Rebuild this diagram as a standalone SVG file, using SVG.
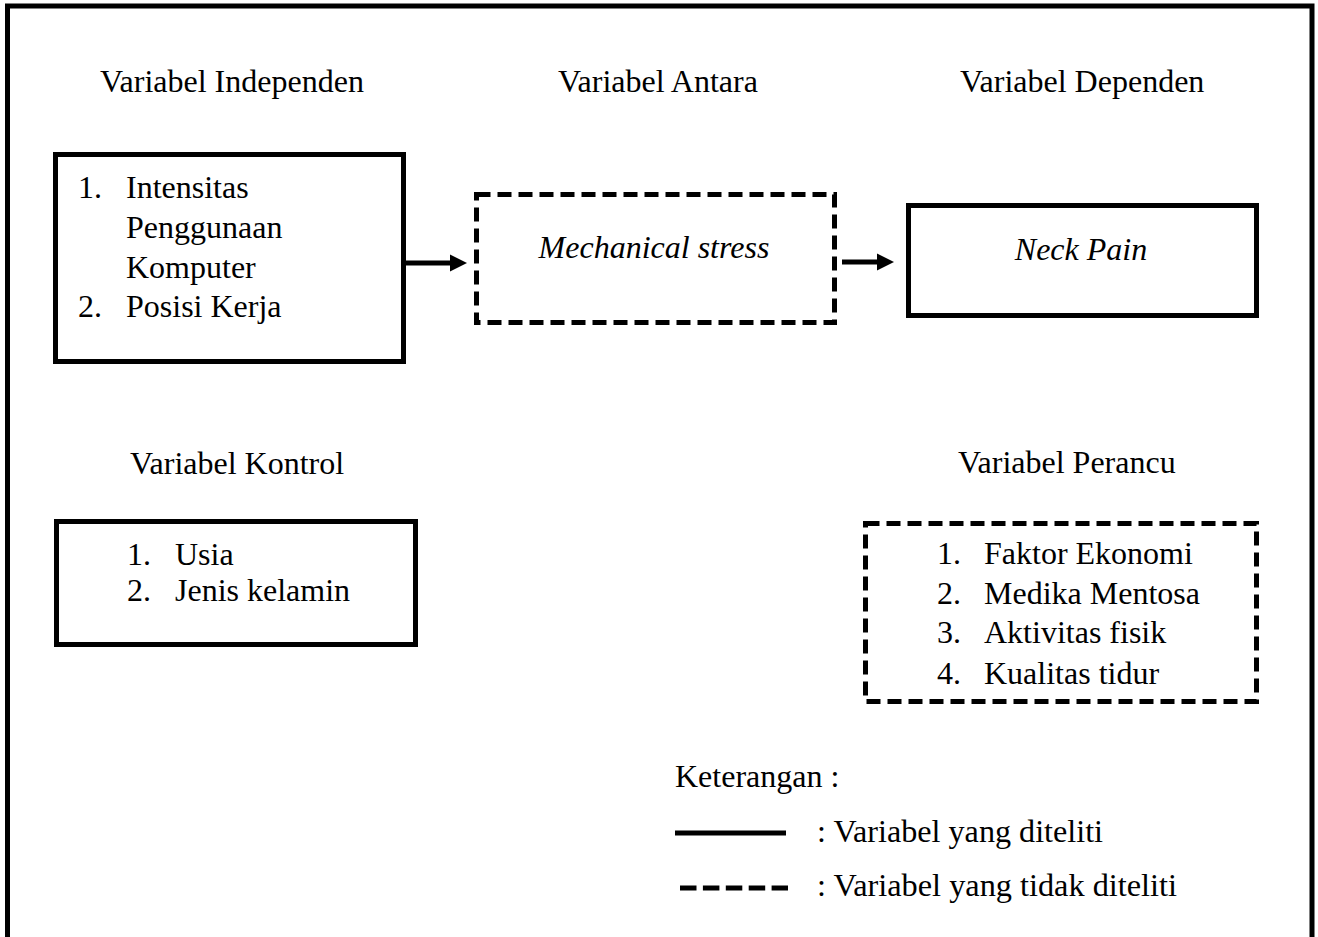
<svg xmlns="http://www.w3.org/2000/svg" width="1318" height="937" viewBox="0 0 1318 937">
<style>
text{font-family:"Liberation Serif","Times New Roman",serif;font-size:32px;fill:#000}
.it{font-style:italic}
.solid{fill:none;stroke:#000;stroke-width:5}
.dash{fill:none;stroke:#000;stroke-width:5;stroke-dasharray:14 7}
.conn{stroke:#000;stroke-width:5;fill:none}
</style>
<rect width="1318" height="937" fill="#fff"/>
<rect x="7.5" y="6" width="1304.5" height="1000" class="solid"/>

<g id="title-independen"><text x="100" y="92">Variabel Independen</text></g>
<g id="title-antara"><text x="558" y="92">Variabel Antara</text></g>
<g id="title-dependen"><text x="960" y="92">Variabel Dependen</text></g>

<g id="node-independen">
<rect x="55.5" y="154.5" width="348" height="207" class="solid"/>
<text x="78" y="198">1.</text><text x="126" y="198">Intensitas</text>
<text x="126" y="238">Penggunaan</text>
<text x="126" y="278">Komputer</text>
<text x="78" y="317">2.</text><text x="126" y="317">Posisi Kerja</text>
</g>

<g id="node-antara">
<rect x="476.5" y="194.5" width="358" height="128" class="dash"/>
<text x="654" y="258" text-anchor="middle" class="it">Mechanical stress</text>
</g>

<g id="node-dependen">
<rect x="908.5" y="205.5" width="348" height="110" class="solid"/>
<text x="1081" y="260" text-anchor="middle" class="it">Neck Pain</text>
</g>

<g id="title-kontrol"><text x="130" y="474">Variabel Kontrol</text></g>
<g id="title-perancu"><text x="958" y="473">Variabel Perancu</text></g>

<g id="node-kontrol">
<rect x="56.5" y="521.5" width="359" height="123" class="solid"/>
<text x="127" y="565">1.</text><text x="175" y="565">Usia</text>
<text x="127" y="601">2.</text><text x="175" y="601">Jenis kelamin</text>
</g>

<g id="node-perancu">
<rect x="865.5" y="523.5" width="391" height="178" class="dash"/>
<text x="937" y="564">1.</text><text x="984" y="564">Faktor Ekonomi</text>
<text x="937" y="604">2.</text><text x="984" y="604">Medika Mentosa</text>
<text x="937" y="643">3.</text><text x="984" y="643">Aktivitas fisik</text>
<text x="937" y="684">4.</text><text x="984" y="684">Kualitas tidur</text>
</g>

<g id="connectors">
<line x1="406" y1="263" x2="452" y2="263" class="conn"/>
<polygon points="450,254.5 467,263 450,271.5" fill="#000"/>
<line x1="842" y1="262" x2="879" y2="262" class="conn"/>
<polygon points="877,253.5 894,262 877,270.5" fill="#000"/>
</g>

<g id="legend">
<text x="675" y="787">Keterangan :</text>
<line x1="675" y1="833" x2="786" y2="833" class="conn"/>
<text x="817" y="842" textLength="286" lengthAdjust="spacingAndGlyphs">: Variabel yang diteliti</text>
<line x1="680" y1="888" x2="788" y2="888" stroke="#000" stroke-width="5" stroke-dasharray="16.5 6.4"/>
<text x="817" y="896" textLength="360" lengthAdjust="spacingAndGlyphs">: Variabel yang tidak diteliti</text>
</g>
</svg>
